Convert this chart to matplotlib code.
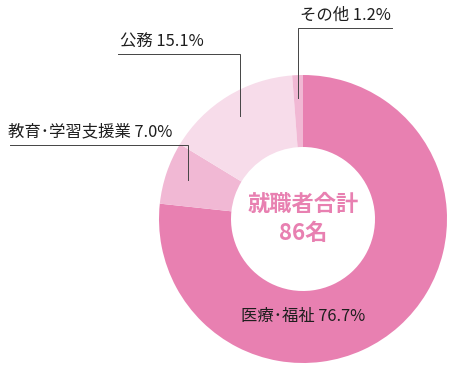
import matplotlib.pyplot as plt
import numpy as np

plt.rcParams['font.family'] = ['Noto Sans CJK JP', 'DejaVu Sans']

# data
categories = ["医療･福祉", "教育･学習支援業", "公務", "その他"]
shares = [76.7, 7.0, 15.1, 1.2]
colors = ["#e880b1", "#f1b8d4", "#f7dcea", "#f1b8d4"]

fig = plt.figure(figsize=(4.5, 3.68), dpi=100)
# pie centre at (303, 219) px, radius 144 px
ax = fig.add_axes([159 / 450, 5 / 368, 288 / 450, 288 / 368])

wedges, _ = ax.pie(shares, colors=colors, startangle=90, counterclock=False,
                   radius=1.0, wedgeprops=dict(width=0.5, linewidth=0))
ax.set_xlim(-1, 1)
ax.set_ylim(-1, 1)
ax.set_aspect('equal')
ax.axis('off')

ax.text(0, 0.1, "就職者合計", ha='center', va='center', fontsize=16,
        fontweight='bold', color="#e880b1")
ax.text(0, -0.1, "86名", ha='center', va='center', fontsize=16,
        fontweight='bold', color="#e880b1")

# leader-line labels: (label y, line end x, text x)
leaders = {
    1: (0.514, -2.035, -2.05),
    2: (1.146, -1.285, -1.27),
    3: (1.326, 0.62, -0.02),
}
for i, (ly, ex, tx) in leaders.items():
    w = wedges[i]
    mid = np.deg2rad((w.theta1 + w.theta2) / 2)
    sx = 0.84 * np.cos(mid)
    sy = 0.84 * np.sin(mid)
    ax.plot([sx, sx, ex], [sy, ly, ly], color="#444444", lw=0.7,
            clip_on=False, solid_joinstyle='miter')
    ax.text(tx, ly + 0.03, f"{categories[i]} {shares[i]:.1f}%", ha='left',
            va='bottom', fontsize=11.8, color="#1e1e1e", clip_on=False)

# label inside the main wedge
ax.text(0.0, -0.68, f"{categories[0]} {shares[0]:.1f}%", ha='center',
        va='center', fontsize=11.8, color="#1e1e1e")

fig.savefig("out.png", dpi=100)
